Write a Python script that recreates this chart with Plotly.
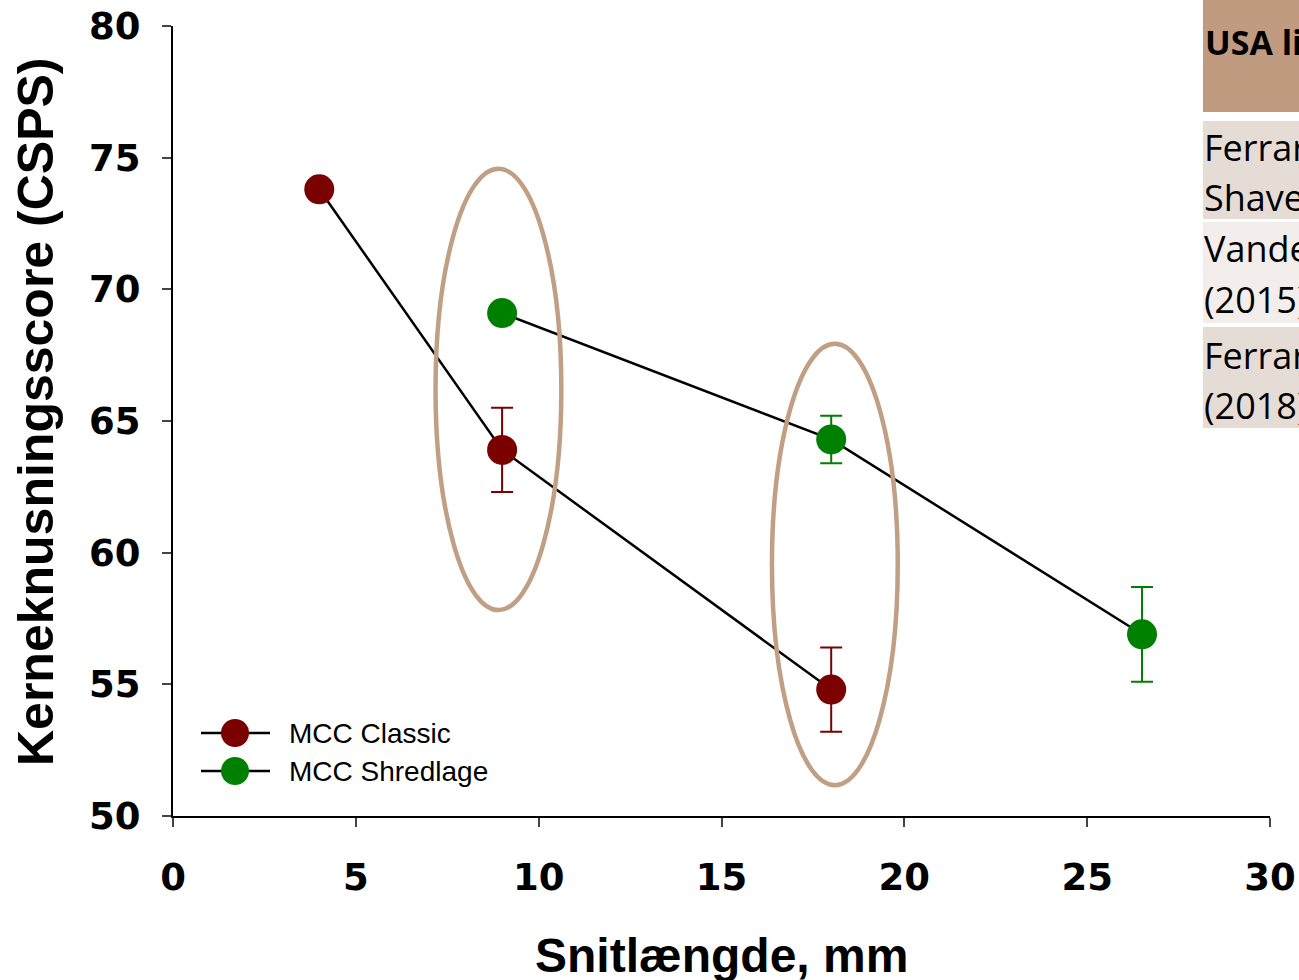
import plotly.graph_objects as go

# Data
classic_x = [4, 9, 18]
classic_y = [73.8, 63.9, 54.8]
classic_err = [0, 1.6, 1.6]
shred_x = [9, 18, 26.5]
shred_y = [69.1, 64.3, 56.9]
shred_err = [0, 0.9, 1.8]

series_names = ["MCC Classic", "MCC Shredlage"]
series_colors = ["#7B0000", "#008000"]

x_ticks = [0, 5, 10, 15, 20, 25, 30]
y_ticks = [50, 55, 60, 65, 70, 75, 80]

# ellipse groups (center x, center y, half width, half height)
ellipses = [(8.9, 66.2, 1.72, 8.38), (18.1, 59.55, 1.72, 8.38)]

table_header = "USA litteratur"
table_rows = [["Ferraretto &", "Shaver (2012)"],
              ["Vanderwerff et al.", "(2015)"],
              ["Ferraretto et al.", "(2018)"]]

W, H = 1299, 980
L, R, T, B = 173, 29, 26, 164
pw, ph = W - L - R, H - T - B

def px(x):
    return (x - L) / pw

def py(y):
    return (H - B - y) / ph

fig = go.Figure()
for xs, ys, errs, name, col in ((classic_x, classic_y, classic_err, series_names[0], series_colors[0]),
                                (shred_x, shred_y, shred_err, series_names[1], series_colors[1])):
    fig.add_trace(go.Scatter(
        x=xs, y=ys, mode="lines+markers", name=name, showlegend=False,
        line=dict(color="black", width=2.5),
        marker=dict(color=col, size=30),
        error_y=dict(type="data", array=errs, color=col, thickness=2, width=11),
    ))

shapes = []
for cx, cy, hw, hh in ellipses:
    shapes.append(dict(type="circle", xref="x", yref="y",
                       x0=cx - hw, x1=cx + hw, y0=cy - hh, y1=cy + hh,
                       line=dict(color="#C19F85", width=4.5), layer="above"))

# custom legend (larger symbols than the native legend allows)
annotations = []
for i, (name, col) in enumerate(zip(series_names, series_colors)):
    yy = 733 + 38 * i
    shapes.append(dict(type="line", xref="paper", yref="paper",
                       x0=px(201), x1=px(270), y0=py(yy), y1=py(yy),
                       line=dict(color="black", width=2.5)))
    shapes.append(dict(type="circle", xref="paper", yref="paper",
                       x0=px(235 - 14), x1=px(235 + 14), y0=py(yy + 14), y1=py(yy - 14),
                       fillcolor=col, line=dict(width=0)))
    annotations.append(dict(xref="paper", yref="paper", x=px(287), y=py(yy), xanchor="left",
                            yanchor="middle", text=name, showarrow=False,
                            font=dict(family="Liberation Sans", size=28, color="black")))

# table background
rows_px = [(0, 112, "#C09B7F"), (121, 219, "#E6DCD6"), (222, 323, "#F3EDEB"), (327, 428, "#E6DCD6")]
for y0, y1, col in rows_px:
    shapes.append(dict(type="rect", xref="paper", yref="paper",
                       x0=px(1203), x1=px(1400), y0=py(y1), y1=py(y0),
                       fillcolor=col, line=dict(width=0), layer="below"))

annotations.append(dict(xref="paper", yref="paper", x=px(1203), y=py(42), xanchor="left", yanchor="middle",
                        text="<b>" + table_header + "</b>", showarrow=False,
                        font=dict(family="Open Sans, Liberation Sans", size=34, color="black")))
row_y = [(147, 197), (249, 300), (355, 405)]
for (l1, l2), (y1, y2) in zip(table_rows, row_y):
    for t, yy in ((l1, y1), (l2, y2)):
        annotations.append(dict(xref="paper", yref="paper", x=px(1202), y=py(yy), xanchor="left",
                                yanchor="middle", text=t, showarrow=False,
                                font=dict(family="Open Sans, Liberation Sans", size=36, color="black")))

# axis titles
annotations.append(dict(xref="paper", yref="paper", x=px(721), y=py(955), xanchor="center", yanchor="middle",
                        text="<b>Snitlængde, mm</b>", showarrow=False,
                        font=dict(family="Liberation Sans", size=48, color="black")))
annotations.append(dict(xref="paper", yref="paper", x=px(36), y=py(412), xanchor="center", yanchor="middle",
                        text="<b>Kerneknusningsscore (CSPS)</b>", showarrow=False, textangle=-90,
                        font=dict(family="Liberation Sans", size=50, color="black")))

fig.update_layout(
    width=W, height=H,
    margin=dict(l=L, r=R, t=T, b=B),
    paper_bgcolor="white", plot_bgcolor="white",
    font=dict(family="Liberation Sans, Arial", color="black"),
    showlegend=False,
    xaxis=dict(range=[0, 30], tickvals=x_ticks, ticks="outside", ticklen=9, tickwidth=2,
               showline=True, linecolor="black", linewidth=2, showgrid=False, zeroline=False,
               automargin=False, ticklabelstandoff=19,
               tickfont=dict(size=37, family="DejaVu Sans", weight="bold")),
    yaxis=dict(range=[50, 80], tickvals=y_ticks, ticks="outside", ticklen=9, tickwidth=2,
               showline=True, linecolor="black", linewidth=2, showgrid=False, zeroline=False,
               automargin=False, ticklabelstandoff=14,
               tickfont=dict(size=37, family="DejaVu Sans", weight="bold")),
    shapes=shapes, annotations=annotations,
)
fig.write_html("out.html")
